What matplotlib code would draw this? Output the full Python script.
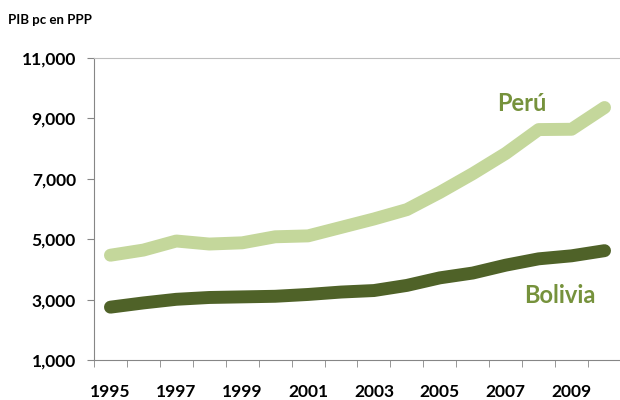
import numpy as np
import matplotlib.pyplot as plt

plt.rcParams['font.family'] = ['Lato', 'DejaVu Sans']

years = np.arange(1995, 2011)
peru = np.array([4470, 4640, 4940, 4840, 4880, 5080, 5110, 5390, 5670, 5980,
                 6550, 7170, 7840, 8630, 8640, 9360])
bolivia = np.array([2750, 2890, 3010, 3070, 3090, 3110, 3170, 3250, 3300, 3470,
                    3720, 3880, 4140, 4350, 4450, 4620])
yticks = [1000, 3000, 5000, 7000, 9000, 11000]

fig = plt.figure(figsize=(6.2, 4.0), dpi=100)
ax = fig.add_axes([0.1516, 0.1, 0.85, 0.755])

x = np.arange(len(years))
ax.plot(x, peru, color="#C4D79B", lw=9.3, solid_capstyle="round", solid_joinstyle="round")
ax.plot(x, bolivia, color="#4F6228", lw=9.3, solid_capstyle="round", solid_joinstyle="round")

ax.set_xlim(-0.5, len(years) - 0.5)
ax.set_ylim(1000, 11000)

# year labels every other category, tick marks between categories
ax.set_xticks(x[::2])
ax.set_xticklabels([str(y) for y in years[::2]], fontsize=12.5, fontweight="bold")
ax.set_xticks(np.arange(-0.5, len(years) + 0.5), minor=True)
ax.tick_params(axis="x", which="major", length=0, pad=17)
ax.tick_params(axis="x", which="minor", length=5, color="#868686", direction="out")

ax.set_yticks(yticks)
ax.set_yticklabels([f"{v:,}" for v in yticks], fontsize=12.5, fontweight="bold")
ax.tick_params(axis="y", length=5, color="#868686", pad=8)

ax.spines["left"].set_color("#868686")
ax.spines["bottom"].set_color("#868686")
ax.spines["top"].set_color("#BEBEBE")
ax.spines["right"].set_visible(False)

ax.text(12.5, 9480, "Perú", color="#76923C", fontsize=17, fontweight="bold",
        ha="center", va="center")
ax.text(13.65, 3120, "Bolivia", color="#76923C", fontsize=17, fontweight="bold",
        ha="center", va="center")

fig.text(0.013, 0.95, "PIB pc en PPP", fontsize=9.5, fontweight="bold", va="center")

fig.savefig("out.png", dpi=100)
